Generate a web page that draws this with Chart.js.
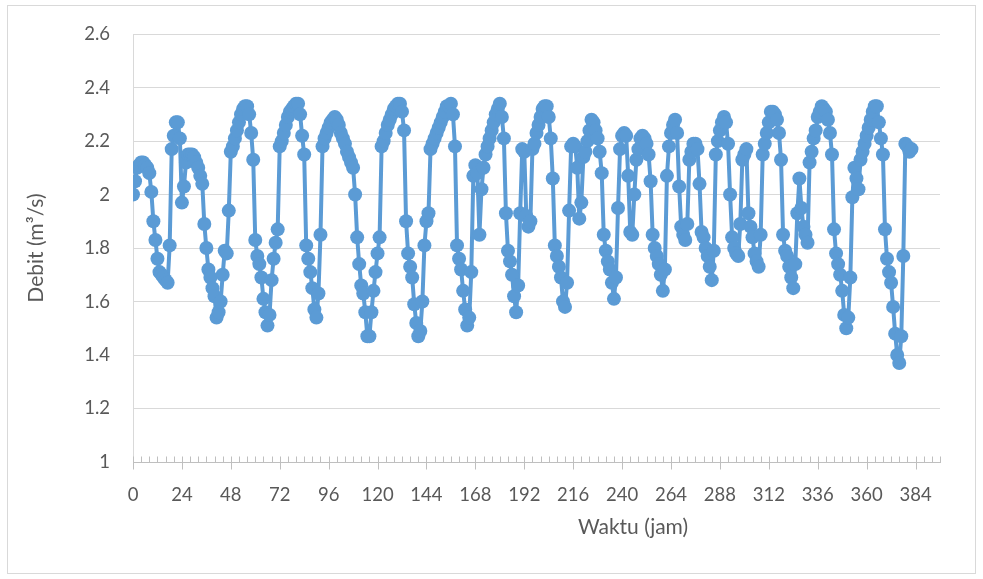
<!DOCTYPE html>
<html>
<head>
<meta charset="utf-8">
<script src="https://cdn.jsdelivr.net/npm/chart.js@4.4.1/dist/chart.umd.min.js"></script>
<style>
html,body{margin:0;padding:0;background:#ffffff;}
canvas{display:block;}
</style>
</head>
<body>
<canvas id="c" width="983" height="579"></canvas>
<script>
// Debit (m3/s) per jam (jam 0 .. 382)
const debit = [
2.00,2.05,2.10,2.11,2.12,2.12,2.11,2.10,2.08,2.01,1.90,1.83,1.76,1.71,1.70,1.69,1.68,1.67,1.81,2.17,
2.22,2.27,2.27,2.21,1.97,2.03,2.12,2.15,2.15,2.15,2.14,2.12,2.10,2.07,2.04,1.89,1.80,1.72,1.69,1.65,
1.62,1.54,1.56,1.60,1.70,1.79,1.78,1.94,2.16,2.18,2.21,2.24,2.27,2.30,2.32,2.33,2.33,2.30,2.23,2.13,
1.83,1.77,1.74,1.69,1.61,1.56,1.51,1.55,1.68,1.76,1.82,1.87,2.18,2.20,2.23,2.26,2.29,2.31,2.32,2.33,
2.34,2.34,2.30,2.22,2.15,1.81,1.76,1.71,1.65,1.57,1.54,1.63,1.85,2.18,2.21,2.23,2.25,2.27,2.28,2.29,
2.28,2.26,2.23,2.21,2.19,2.16,2.14,2.12,2.10,2.00,1.84,1.74,1.66,1.63,1.56,1.47,1.47,1.56,1.64,1.71,
1.78,1.84,2.18,2.20,2.23,2.26,2.28,2.30,2.32,2.33,2.34,2.34,2.31,2.24,1.90,1.78,1.73,1.69,1.59,1.52,
1.47,1.49,1.60,1.81,1.90,1.93,2.17,2.19,2.21,2.23,2.25,2.27,2.29,2.31,2.33,2.33,2.34,2.30,2.18,1.81,
1.76,1.72,1.64,1.57,1.51,1.54,1.71,2.07,2.11,2.08,1.85,2.02,2.10,2.15,2.18,2.21,2.24,2.27,2.30,2.32,
2.34,2.29,2.21,1.93,1.79,1.75,1.70,1.62,1.56,1.66,1.93,2.17,2.16,1.92,1.88,1.90,2.17,2.19,2.23,2.26,
2.29,2.32,2.33,2.33,2.29,2.21,2.06,1.81,1.77,1.73,1.69,1.60,1.58,1.67,1.94,2.18,2.19,2.18,2.10,1.91,
1.97,2.14,2.16,2.20,2.24,2.28,2.27,2.24,2.21,2.16,2.08,1.85,1.79,1.75,1.72,1.67,1.61,1.69,1.95,2.17,
2.22,2.23,2.22,2.07,1.86,1.85,2.00,2.13,2.17,2.21,2.22,2.21,2.19,2.15,2.05,1.85,1.80,1.77,1.74,1.70,
1.64,1.72,2.07,2.18,2.23,2.26,2.28,2.23,2.03,1.88,1.85,1.83,1.89,2.13,2.16,2.19,2.19,2.17,2.04,1.86,
1.84,1.80,1.77,1.73,1.68,1.79,2.15,2.20,2.24,2.27,2.29,2.27,2.19,2.00,1.84,1.80,1.78,1.77,1.89,2.13,
2.15,2.17,1.93,1.88,1.84,1.78,1.75,1.73,1.85,2.15,2.19,2.23,2.27,2.31,2.31,2.30,2.28,2.23,2.13,1.85,
1.79,1.77,1.73,1.69,1.65,1.74,1.93,2.06,1.95,1.88,1.85,1.82,2.12,2.16,2.21,2.24,2.29,2.31,2.33,2.32,
2.31,2.28,2.23,2.15,1.87,1.78,1.74,1.70,1.64,1.55,1.50,1.54,1.69,1.99,2.10,2.06,2.02,2.13,2.16,2.19,
2.22,2.25,2.28,2.31,2.33,2.33,2.27,2.21,2.15,1.87,1.76,1.71,1.67,1.58,1.48,1.40,1.37,1.47,1.77,2.19,
2.18,2.16,2.17
];
// Waktu (jam) for each reading
const jam = debit.map((v, i) => i);
// Axis tick labels
const xTickLabels = [0,24,48,72,96,120,144,168,192,216,240,264,288,312,336,360,384];
const yTickLabels = [1,1.2,1.4,1.6,1.8,2,2.2,2.4,2.6];
const xTitle = 'Waktu (jam)';
const yTitle = 'Debit (m³/s)';

const points = jam.map((x, i) => ({x: x, y: debit[i]}));

const decor = {
  id: 'decor',
  beforeDraw(chart) {
    const ctx = chart.ctx;
    ctx.save();
    ctx.fillStyle = '#ffffff';
    ctx.fillRect(0, 0, chart.width, chart.height);
    ctx.strokeStyle = '#d9d9d9';
    ctx.lineWidth = 1;
    ctx.strokeRect(7.5, 5.5, 968, 568);
    ctx.restore();
  },
  afterDraw(chart) {
    const ctx = chart.ctx;
    const xs = chart.scales.x;
    const ca = chart.chartArea;
    ctx.save();
    ctx.strokeStyle = '#bfbfbf';
    ctx.lineWidth = 1;
    const yb = Math.round(ca.bottom) + 0.5;
    xs.ticks.forEach(t => {
      const px = Math.round(xs.getPixelForValue(t.value)) + 0.5;
      ctx.beginPath();
      if (xTickLabels.includes(t.value)) {
        ctx.moveTo(px, yb - 6);
        ctx.lineTo(px, yb + 7);
      } else {
        ctx.moveTo(px, yb - 6);
        ctx.lineTo(px, yb);
      }
      ctx.stroke();
    });
    // axis titles
    ctx.fillStyle = '#595959';
    ctx.font = '21px Lato';
    ctx.textAlign = 'center';
    ctx.textBaseline = 'middle';
    ctx.fillText(xTitle, 633, 527);
    ctx.translate(36, (ca.top + ca.bottom) / 2);
    ctx.rotate(-Math.PI / 2);
    ctx.fillText(yTitle, 0, 0);
    ctx.restore();
  }
};

new Chart(document.getElementById('c'), {
  type: 'line',
  data: {
    datasets: [{
      data: points,
      borderColor: '#5b9bd5',
      backgroundColor: '#5b9bd5',
      borderWidth: 4,
      borderJoinStyle: 'round',
      borderCapStyle: 'round',
      pointRadius: 7,
      pointBorderWidth: 0,
      pointBackgroundColor: '#5b9bd5',
      tension: 0,
      fill: false
    }]
  },
  options: {
    responsive: false,
    animation: false,
    events: [],
    layout: { padding: { left: 0, top: 33, right: 43, bottom: 0 } },
    plugins: { legend: { display: false }, tooltip: { enabled: false } },
    scales: {
      x: {
        type: 'linear',
        min: 0,
        max: 396,
        afterFit(s) { s.height = 117; },
        afterBuildTicks(s) {
          const t = [];
          for (let v = 0; v <= 396; v += 4) t.push({value: v});
          s.ticks = t;
        },
        grid: { display: false, drawTicks: false, tickLength: 0 },
        border: { display: true, color: '#bfbfbf', width: 1 },
        ticks: {
          autoSkip: false,
          maxRotation: 0,
          padding: 22,
          color: '#595959',
          font: { family: 'Lato', size: 18.5 },
          callback(v) { return xTickLabels.includes(v) ? String(v) : ''; }
        }
      },
      y: {
        min: 1,
        max: 2.6,
        afterFit(s) { s.width = 133; },
        afterBuildTicks(s) { s.ticks = yTickLabels.map(v => ({value: v})); },
        grid: { color: '#d9d9d9', lineWidth: 1, drawTicks: false, tickLength: 0 },
        border: { display: true, color: '#d9d9d9', width: 1 },
        ticks: {
          padding: 23,
          color: '#595959',
          font: { family: 'Lato', size: 18.5 },
          callback(v) { return String(v); }
        }
      }
    }
  },
  plugins: [decor]
});
</script>
</body>
</html>
